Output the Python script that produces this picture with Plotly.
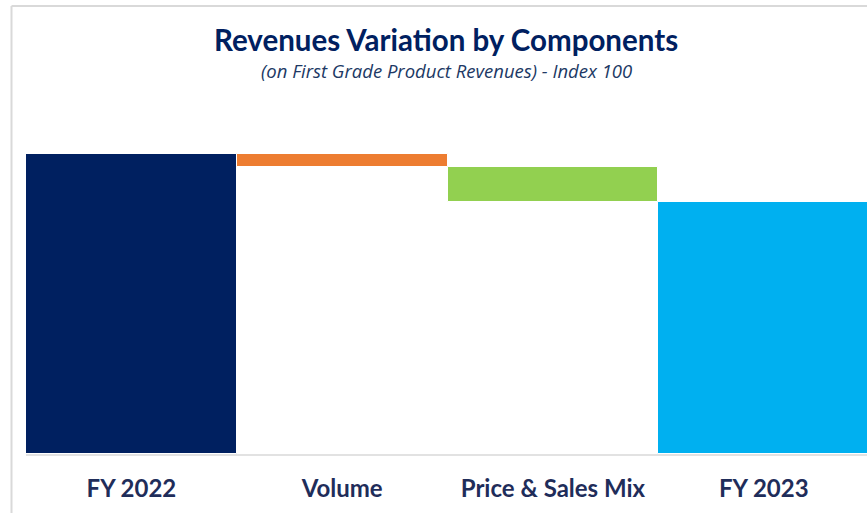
import plotly.graph_objects as go

categories = ["FY 2022", "Volume", "Price & Sales Mix", "FY 2023"]
changes = [100, -4.4, -11.5, 84.1]
kinds = ["total", "relative", "relative", "total"]
colors = ["#002060", "#ED7D31", "#92D050", "#00B0F0"]

# compute bar bases from the data (waterfall logic)
bases, lengths = [], []
running = 0
for v, k in zip(changes, kinds):
    if k == "total":
        bases.append(0)
        lengths.append(v)
        running = v
    else:
        bases.append(running)
        lengths.append(v)
        running += v

fig = go.Figure(go.Bar(
    x=categories, y=lengths, base=bases,
    marker=dict(color=colors, line=dict(color="white", width=1)),
    hoverinfo="skip",
))

W, H = 867, 513
L, R, T, B = 26, 0, 124, 59
pw, ph = W - L - R, H - T - B

def px_x(x):
    return (x - L) / pw

def px_y(y):
    return (H - B - y) / ph

fig.update_layout(
    width=W, height=H,
    margin=dict(l=L, r=R, t=T, b=B),
    paper_bgcolor="white", plot_bgcolor="white",
    bargap=0, showlegend=False,
    xaxis=dict(range=[-0.5, 3.49], showgrid=False, zeroline=False,
               showline=False, ticks="",
               tickfont=dict(family="Lato", size=24, color="#1F2D5A", weight="bold"),
               ticklabelstandoff=18),
    yaxis=dict(range=[0, 110], visible=False, fixedrange=True),
    annotations=[
        dict(text="<b>Revenues Variation by Components</b>", xref="paper", yref="paper",
             x=px_x(446), y=px_y(40), xanchor="center", yanchor="middle", showarrow=False,
             font=dict(family="Lato", size=29.5, color="#002060")),
        dict(text="<i>(on First Grade Product Revenues) - Index 100</i>", xref="paper", yref="paper",
             x=px_x(446), y=px_y(71), xanchor="center", yanchor="middle", showarrow=False,
             font=dict(family="Open Sans", size=18.5, color="#203864")),
    ],
    shapes=[
        dict(type="line", xref="paper", yref="paper", x0=px_x(11.5), x1=px_x(11.5),
             y0=px_y(6), y1=px_y(513), line=dict(color="#D9D9D9", width=2)),
        dict(type="line", xref="paper", yref="paper", x0=px_x(11.5), x1=1,
             y0=px_y(6), y1=px_y(6), line=dict(color="#D9D9D9", width=2)),
        dict(type="line", xref="paper", yref="paper", x0=0, x1=1,
             y0=px_y(455), y1=px_y(455), line=dict(color="#D9D9D9", width=1.5)),
    ],
)

fig.write_html("out.html", config={"displayModeBar": False},
               post_script="document.body.style.margin='0';document.body.style.overflow='hidden';")
